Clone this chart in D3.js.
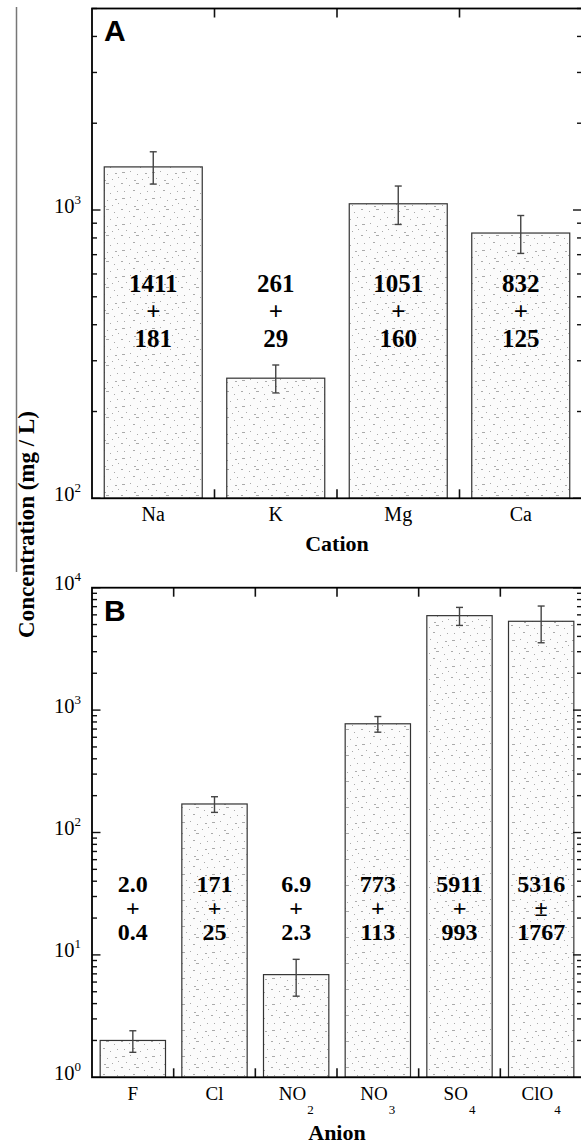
<!DOCTYPE html>
<html><head><meta charset="utf-8">
<script src="https://cdn.jsdelivr.net/npm/d3@7"></script>
<style>body{margin:0;background:#fff}</style></head>
<body><svg id="c" width="581" height="1144"></svg>
<script>
// ---- data ----
const cations = ["Na", "K", "Mg", "Ca"];
const cationMean = [1411, 261, 1051, 832];
const cationSD = [181, 29, 160, 125];
const cationSign = ["+", "+", "+", "+"];

const anions = ["F", "Cl", "NO2", "NO3", "SO4", "ClO4"];
const anionBase = ["F", "Cl", "NO", "NO", "SO", "ClO"];
const anionSub = ["", "", "2", "3", "4", "4"];
const anionMean = [2.0, 171, 6.9, 773, 5911, 5316];
const anionSD = [0.4, 25, 2.3, 113, 993, 1767];
const anionSign = ["+", "+", "+", "+", "+", "±"];

const yDomainA = [100, 5000];
const yDomainB = [1, 10000];

const svg = d3.select("#c");
const SERIF = "'Liberation Serif','Times New Roman',serif";
const SANS = "'Liberation Sans',Arial,sans-serif";

// stipple pattern
const defs = svg.append("defs");
const pat = defs.append("pattern").attr("id", "stip").attr("patternUnits", "userSpaceOnUse")
  .attr("width", 30).attr("height", 26);
pat.append("rect").attr("width", 30).attr("height", 26).attr("fill", "#fbfbfb");
const dots = [[1,1,2],[9,3,1],[16,1,3],[24,4,1],[4,9,1],[13,8,2],[20,11,1],[27,9,1],[2,16,3],[10,15,1],[17,18,1],[25,17,2],[6,22,1],[14,24,2],[22,23,1],[28,21,1]];
dots.forEach(([x, y, w]) => pat.append("rect").attr("x", x).attr("y", y).attr("width", w).attr("height", 1).attr("fill", "#aaa"));

// page artifact line at left
svg.append("line").attr("x1", 16.5).attr("x2", 16.5).attr("y1", 7).attr("y2", 572)
  .attr("stroke", "#777").attr("stroke-width", 1.5);

function fmt(v) { return v < 10 ? v.toFixed(1) : String(v); }

function panel(cfg) {
  const { cats, means, sds, signs, left, right, top, bottom, domain } = cfg;
  const g = svg.append("g");
  const x = d3.scaleBand().domain(cats).range([left, right]).paddingInner(0.2).paddingOuter(0.1);
  const y = d3.scaleLog().domain(domain).range([bottom, top]);
  const step = x.step();

  // bars
  g.selectAll("rect.bar").data(cats).join("rect").attr("class", "bar")
    .attr("x", d => x(d)).attr("width", x.bandwidth())
    .attr("y", (d, i) => y(means[i])).attr("height", (d, i) => bottom - y(means[i]))
    .attr("fill", "url(#stip)").attr("stroke", "#333").attr("stroke-width", 1.2);

  // error bars
  cats.forEach((c, i) => {
    const cx = x(c) + x.bandwidth() / 2;
    const y1 = y(means[i] + sds[i]), y2 = y(means[i] - sds[i]);
    g.append("line").attr("x1", cx).attr("x2", cx).attr("y1", y1).attr("y2", y2).attr("stroke", "#444").attr("stroke-width", 1.4);
    [y1, y2].forEach(yy => g.append("line").attr("x1", cx - 3.5).attr("x2", cx + 3.5).attr("y1", yy).attr("y2", yy).attr("stroke", "#444").attr("stroke-width", 1.4));
  });

  // value labels
  cats.forEach((c, i) => {
    const cx = x(c) + x.bandwidth() / 2;
    const lines = [fmt(means[i]), signs[i], fmt(sds[i])];
    lines.forEach((t, k) => g.append("text").attr("x", cx).attr("y", cfg.labelY[k])
      .attr("text-anchor", "middle").attr("font-family", SERIF).attr("font-weight", "bold")
      .attr("font-size", cfg.labelSize).attr("fill", "#000").text(t));
  });

  // y ticks (both sides)
  y.ticks().forEach(v => {
    const yy = y(v);
    const major = Math.abs(Math.log10(v) - Math.round(Math.log10(v))) < 1e-9;
    const lenL = major ? 8.5 : 5, lenR = major ? 9 : 5;
    g.append("line").attr("x1", left).attr("x2", left + lenL).attr("y1", yy).attr("y2", yy).attr("stroke", "#111").attr("stroke-width", 1.4);
    g.append("line").attr("x1", right).attr("x2", right - lenR).attr("y1", yy).attr("y2", yy).attr("stroke", "#111").attr("stroke-width", 1.4);
    if (major) {
      const t = g.append("text").attr("x", 81).attr("y", yy + 2.5).attr("text-anchor", "end")
        .attr("font-family", SERIF).attr("font-size", 20.5).attr("fill", "#000");
      t.append("tspan").text("10");
      t.append("tspan").attr("dy", -9).attr("font-size", 13).text(Math.round(Math.log10(v)));
    }
  });

  // category boundary ticks top & bottom
  for (let i = 1; i < cats.length; i++) {
    const xx = left + i * step;
    g.append("line").attr("x1", xx).attr("x2", xx).attr("y1", top).attr("y2", top + 9).attr("stroke", "#111").attr("stroke-width", 1.6);
    g.append("line").attr("x1", xx).attr("x2", xx).attr("y1", bottom).attr("y2", bottom - 9).attr("stroke", "#111").attr("stroke-width", 1.6);
  }

  // frame
  g.append("rect").attr("x", left).attr("y", top).attr("width", right - left).attr("height", bottom - top)
    .attr("fill", "none").attr("stroke", "#000").attr("stroke-width", 1.8);

  // x category labels
  cats.forEach((c, i) => {
    const cx = x(c) + x.bandwidth() / 2;
    const t = g.append("text").attr("x", cx).attr("y", cfg.xLabelY).attr("text-anchor", "middle")
      .attr("font-family", SERIF).attr("font-size", cfg.xLabelSize).attr("fill", "#000");
    t.append("tspan").text(cfg.base[i]);
    if (cfg.sub && cfg.sub[i]) t.append("tspan").attr("dy", 14).attr("dx", 1).attr("font-size", 13).text(cfg.sub[i]);
  });

  // x title
  g.append("text").attr("x", (left + right) / 2).attr("y", cfg.xTitleY).attr("text-anchor", "middle")
    .attr("font-family", SERIF).attr("font-weight", "bold").attr("font-size", 22).attr("fill", "#000").text(cfg.xTitle);

  // panel letter
  g.append("text").attr("x", left + 12).attr("y", cfg.letterY).attr("font-family", SANS)
    .attr("font-weight", "bold").attr("font-size", 30).attr("fill", "#000").text(cfg.letter);
}

panel({ cats: cations, means: cationMean, sds: cationSD, signs: cationSign, base: cations,
  left: 92, right: 582, top: 8.5, bottom: 498.3, domain: yDomainA,
  labelY: [291.5, 320, 347], labelSize: 25, xLabelY: 520.7, xLabelSize: 20, xTitle: "Cation", xTitleY: 550.7,
  letter: "A", letterY: 41 });

panel({ cats: anions, means: anionMean, sds: anionSD, signs: anionSign, base: anionBase, sub: anionSub,
  left: 92, right: 582, top: 587.7, bottom: 1077.3, domain: yDomainB,
  labelY: [891.5, 916, 940], labelSize: 24, xLabelY: 1100, xLabelSize: 19, xTitle: "Anion", xTitleY: 1140,
  letter: "B", letterY: 620.5 });

// y axis title
svg.append("text").attr("transform", "translate(34,524.5) rotate(-90)").attr("text-anchor", "middle")
  .attr("font-family", SERIF).attr("font-weight", "bold").attr("font-size", 23).attr("fill", "#000")
  .text("Concentration (mg / L)");
</script></body></html>
